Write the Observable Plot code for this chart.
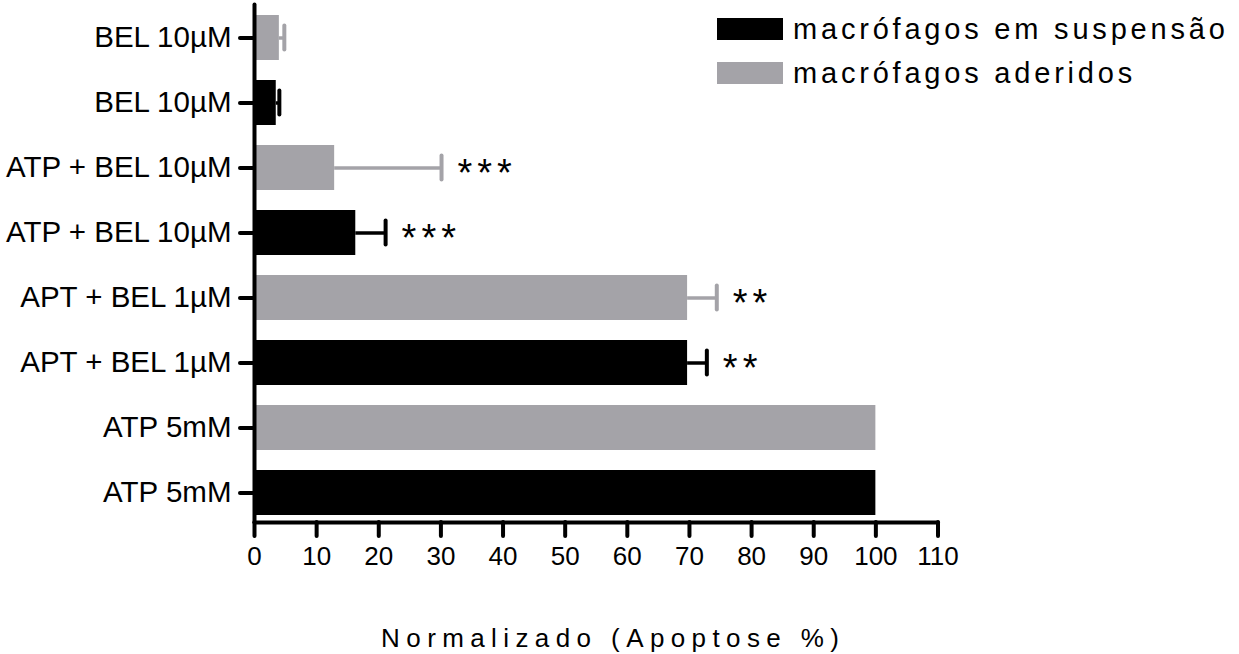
<!DOCTYPE html>
<html>
<head>
<meta charset="utf-8">
<script src="https://cdn.jsdelivr.net/npm/d3@7"></script>
<script src="https://cdn.jsdelivr.net/npm/@observablehq/plot@0.6"></script>
<style>
  body { margin: 0; background: #fff; }
  #wrap { position: relative; width: 1239px; height: 654px; font-family: "Liberation Sans", Arial, sans-serif; }
  .legend { position: absolute; left: 717px; top: 18px; }
  .item { display: flex; align-items: center; height: 22px; margin-bottom: 22px; }
  .sw { width: 66px; height: 22px; margin-right: 10px; flex: none; }
  .lab { font-size: 29px; letter-spacing: 3.8px; color: #000; white-space: nowrap; line-height: 22px; }
  g[aria-label="text"] text { letter-spacing: 5px; }
  g[aria-label="x-axis label"] text { letter-spacing: 6.4px; translate: 17px 0; }
  g[aria-label="x-axis tick"] *, g[aria-label="y-axis tick"] * { stroke-width: 4px; stroke-linecap: round; }
</style>
</head>
<body>
<div id="wrap"></div>
<script>
// Rows from top to bottom
const rowLabels = ["BEL 10µM", "BEL 10µM", "ATP + BEL 10µM", "ATP + BEL 10µM", "APT + BEL 1µM", "APT + BEL 1µM", "ATP 5mM", "ATP 5mM"];
const seriesNames = ["macrófagos em suspensão", "macrófagos aderidos"];
const rowSeries = ["macrófagos aderidos", "macrófagos em suspensão", "macrófagos aderidos", "macrófagos em suspensão", "macrófagos aderidos", "macrófagos em suspensão", "macrófagos aderidos", "macrófagos em suspensão"];
const values = [4.0, 3.5, 12.9, 16.3, 69.7, 69.7, 100, 100];
const errorUpper = [4.8, 4.0, 30.1, 21.1, 74.4, 72.8, null, null];
const significance = ["", "", "***", "***", "**", "**", "", ""];
const xTicks = [0, 10, 20, 30, 40, 50, 60, 70, 80, 90, 100, 110];
const seriesColors = ["#000000", "#a4a3a8"];

const data = rowLabels.map((label, i) => ({
  i, label, series: rowSeries[i], value: values[i], err: errorUpper[i], star: significance[i]
}));
const errData = data.filter(d => d.err != null);
const starData = data.filter(d => d.star);

const chart = Plot.plot({
  width: 1239,
  height: 654,
  marginLeft: 254,
  marginRight: 301.5,
  marginTop: 4,
  marginBottom: 132,
  style: { fontFamily: "'Liberation Sans', Arial, sans-serif", fontSize: "26px", color: "#000", background: "#fff", overflow: "visible" },
  x: { domain: [0, 110] },
  y: { type: "band", domain: data.map(d => d.i), range: [3, 527], paddingInner: 0.31, paddingOuter: 0.155 },
  color: { domain: seriesNames, range: seriesColors },
  marks: [
    Plot.barX(data, { x: "value", y: "i", fill: "series" }),
    Plot.ruleY(errData, { x1: "value", x2: "err", y: "i", stroke: "series", strokeWidth: 3.5 }),
    Plot.tickX(errData, { x: "err", y: "i", stroke: "series", strokeWidth: 4, strokeLinecap: "round", insetTop: 10.5, insetBottom: 10.5 }),
    Plot.text(starData, { x: "err", y: "i", text: "star", textAnchor: "start", dx: 16, dy: 5.5, fontSize: 38, fill: "#000" }),
    Plot.frame({ anchor: "left", stroke: "#000", strokeWidth: 4, strokeLinecap: "round" }),
    Plot.frame({ anchor: "bottom", stroke: "#000", strokeWidth: 4, strokeLinecap: "round" }),
    Plot.axisX({ ticks: xTicks, tickSize: 14, tickPadding: 10, fontSize: 26, label: "Normalizado (Apoptose %)", labelAnchor: "center", labelOffset: 124, labelArrow: "none" }),
    Plot.axisY({ tickSize: 14, tickPadding: 9, fontSize: 29.5, tickFormat: i => rowLabels[i], label: null })
  ]
});

const wrap = document.getElementById("wrap");
wrap.appendChild(chart);

const legend = document.createElement("div");
legend.className = "legend";
seriesNames.forEach((name, k) => {
  const item = document.createElement("div");
  item.className = "item";
  const sw = document.createElement("div");
  sw.className = "sw";
  sw.style.background = seriesColors[k];
  const lab = document.createElement("span");
  lab.className = "lab";
  lab.textContent = name;
  item.appendChild(sw);
  item.appendChild(lab);
  legend.appendChild(item);
});
wrap.appendChild(legend);
</script>
</body>
</html>
